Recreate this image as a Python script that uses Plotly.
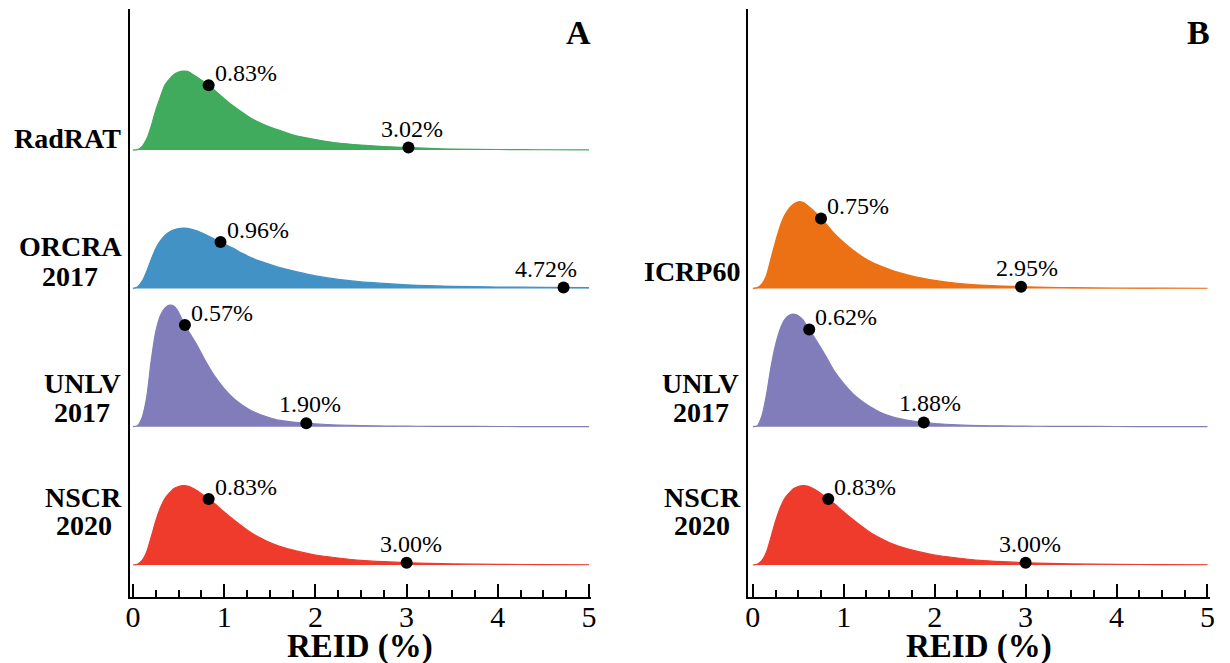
import numpy as np
import plotly.graph_objects as go

# Common REID grid (%) on which each density ridge is sampled
X_GRID = [0.0, 0.05, 0.1, 0.15, 0.2, 0.25, 0.3, 0.35, 0.4, 0.45, 0.5, 0.55, 0.6,
          0.7, 0.8, 0.9, 1.0, 1.1, 1.2, 1.3, 1.4, 1.5, 1.6, 1.8, 2.0, 2.25, 2.5,
          2.75, 3.0, 3.25, 3.5, 4.0, 4.5, 5.0]

# Relative density heights of each model's REID distribution
RADRAT = [0, 0.5, 3.5, 11, 24, 40, 53, 65, 71, 75.5, 78, 79, 78.8,
          73, 67, 59.5, 51.5, 44, 37.5, 31.5, 27, 23, 20, 14, 10.5, 7, 5,
          3.5, 2.6, 1.7, 1.1, 0.6, 0.35, 0.2]
ORCRA = [0, 1.5, 7, 17, 29, 40, 47.5, 53, 56.5, 58.5, 59.8, 60.3, 60,
         57.5, 53.5, 49, 44.5, 40, 35, 30.5, 27, 24, 21, 16.5, 12.5, 9, 6.5,
         5, 3.6, 2.8, 2.1, 1.4, 1.0, 0.7]
UNLV_A = [0, 1, 9, 29, 66, 95, 111, 118.5, 121.5, 120.5, 114.5, 105, 97,
          82, 65, 50, 38, 28.5, 21.5, 16, 12, 9, 6.5, 4.2, 2.8, 1.7, 1.1,
          0.7, 0.5, 0.4, 0.3, 0.2, 0.15, 0.1]
NSCR = [0, 0.8, 4.5, 13, 28, 44, 57, 66.5, 72, 76.5, 78.5, 79.3, 79,
        74.5, 68, 61, 53, 45.5, 38.5, 32, 27, 22.5, 19, 13.8, 10, 7, 4.6,
        3.3, 2.3, 1.6, 1.1, 0.6, 0.4, 0.25]
ICRP60 = [0, 0.8, 4.5, 13, 30, 47, 62, 73, 80, 84.5, 86.6, 86, 83,
          75, 65, 54.5, 46, 38.5, 32, 26.5, 22.5, 19, 16, 11.3, 8, 5, 3.4,
          2.3, 1.6, 1.1, 0.75, 0.4, 0.25, 0.15]
UNLV_B = [0, 1, 11, 32, 60, 82, 97.5, 107, 111.5, 112.7, 111, 107, 100,
          86, 71, 55, 43, 33, 25.5, 19.5, 14.5, 11, 8.3, 5, 3.2, 1.8, 1.1,
          0.75, 0.5, 0.4, 0.3, 0.2, 0.15, 0.1]

# Mean and 95th-percentile REID (%) for each ridge
MEANS_A = [0.83, 0.96, 0.57, 0.83]
P95_A = [3.02, 4.72, 1.90, 3.00]
MEANS_B = [0.75, 0.62, 0.83]
P95_B = [2.95, 1.88, 3.00]

LABELS_A = [["RadRAT"], ["ORCRA", "2017"], ["UNLV", "2017"], ["NSCR", "2020"]]
LABELS_B = [["ICRP60"], ["UNLV", "2017"], ["NSCR", "2020"]]
X_TICKS = [0, 1, 2, 3, 4, 5]

FONT = "Liberation Serif"
GREEN, BLUE, PURPLE, RED, ORANGE = "#41ab5d", "#4292c6", "#807dba", "#ef3b2c", "#ec7014"
STEP = 138.3  # vertical spacing between ridge baselines (density units)
LABEL_SIZE = 28

# advance widths (em) of the bold serif glyphs used in the ridge names
BOLD_EM = {"O": .778, "R": .722, "C": .722, "A": .722, "U": .722, "N": .722,
           "L": .667, "V": .722, "S": .556, "I": .389, "P": .611, "T": .667,
           "a": .5, "d": .556}


def text_width(s):
    return sum(BOLD_EM.get(ch, 0.5) for ch in s) * LABEL_SIZE


W, H = 1230, 663
fig = go.Figure()

# per-ridge label line offsets (px above the ridge baseline)
panels = [
    dict(xa="x", ya="y", dens=[RADRAT, ORCRA, UNLV_A, NSCR], rows=[3, 2, 1, 0],
         colors=[GREEN, BLUE, PURPLE, RED], means=MEANS_A, p95=P95_A,
         labels=LABELS_A, lab_dy=[[12], [42, 12], [43, 14], [68, 40]],
         p95_dx=[4, -18, 4, 4]),
    dict(xa="x2", ya="y2", dens=[ICRP60, UNLV_B, NSCR], rows=[2, 1, 0],
         colors=[ORANGE, PURPLE, RED], means=MEANS_B, p95=P95_B,
         labels=LABELS_B, lab_dy=[[17], [43, 14], [68, 40]], p95_dx=[6, 6, 4]),
]

annotations = []
for p in panels:
    for dens, row, col, m, q, lab, dys, qdx in zip(p["dens"], p["rows"], p["colors"],
                                                   p["means"], p["p95"], p["labels"],
                                                   p["lab_dy"], p["p95_dx"]):
        base = row * STEP
        fig.add_trace(go.Scatter(x=X_GRID, y=[base] * len(X_GRID), mode="lines",
                                 line=dict(width=0, color=col), hoverinfo="skip",
                                 showlegend=False, xaxis=p["xa"], yaxis=p["ya"]))
        fig.add_trace(go.Scatter(x=X_GRID, y=[base + d for d in dens], mode="lines",
                                 fill="tonexty", fillcolor=col,
                                 line=dict(width=1.2, color=col, shape="spline", smoothing=0.6),
                                 showlegend=False, xaxis=p["xa"], yaxis=p["ya"]))
        pts = [m, q]
        ys = [base + float(np.interp(v, X_GRID, dens)) for v in pts]
        fig.add_trace(go.Scatter(x=pts, y=ys, mode="markers",
                                 marker=dict(color="black", size=12),
                                 showlegend=False, xaxis=p["xa"], yaxis=p["ya"]))
        annotations.append(dict(x=m, y=ys[0], xref=p["xa"], yref=p["ya"],
                                text=f"{m:.2f}%", showarrow=False, xanchor="left",
                                yanchor="middle", xshift=4, yshift=12,
                                font=dict(family=FONT, size=24, color="black")))
        annotations.append(dict(x=q, y=ys[1], xref=p["xa"], yref=p["ya"],
                                text=f"{q:.2f}%", showarrow=False, xanchor="center",
                                yanchor="middle", xshift=qdx, yshift=19,
                                font=dict(family=FONT, size=24, color="black")))
        # name block: right-aligned against the axis, lines centred on each other
        centre = -8 - max(text_width(s) for s in lab) / 2
        for line, dy in zip(lab, dys):
            annotations.append(dict(x=0, y=base, xref=f"{p['xa']} domain", yref=p["ya"],
                                    text=f"<b>{line}</b>", showarrow=False,
                                    xanchor="center", yanchor="middle",
                                    xshift=centre, yshift=dy,
                                    font=dict(family=FONT, size=LABEL_SIZE, color="black")))

for xa, letter in [("x", "A"), ("x2", "B")]:
    annotations.append(dict(x=1, y=1, xref=f"{xa} domain", yref="paper",
                            text=f"<b>{letter}</b>", showarrow=False, xanchor="right",
                            yanchor="middle", xshift=2, yshift=-32,
                            font=dict(family=FONT, size=34, color="black")))
    annotations.append(dict(x=0.5, y=0, xref=f"{xa} domain", yref="paper",
                            text="<b>REID (%)</b>", showarrow=False, xanchor="center",
                            yanchor="middle", yshift=17,
                            font=dict(family=FONT, size=33, color="black")))

y_dom = [66 / H, 1 - 9 / H]
x_common = dict(showline=True, linecolor="black", linewidth=2, mirror=False,
                ticks="inside", ticklen=13, tickwidth=2, tickcolor="black",
                tickvals=X_TICKS, ticktext=[str(t) for t in X_TICKS],
                minor=dict(ticks="inside", ticklen=7, tickwidth=1.5, dtick=0.25,
                           tickcolor="black"),
                showgrid=False, zeroline=False, ticklabelstandoff=-8,
                tickfont=dict(family=FONT, size=30, color="black"))
y_common = dict(showline=True, linecolor="black", linewidth=2, ticks="",
                showticklabels=False, showgrid=False, zeroline=False,
                range=[-32, 556], domain=y_dom)

fig.update_layout(
    width=W, height=H,
    margin=dict(l=0, r=0, t=0, b=0),
    paper_bgcolor="white", plot_bgcolor="white",
    xaxis=dict(x_common, domain=[126.7 / W, 591.7 / W], range=[-0.036, 5.02], anchor="y"),
    yaxis=dict(y_common, anchor="x"),
    xaxis2=dict(x_common, domain=[750.5 / W, 1215.7 / W], range=[-0.049, 5.026], anchor="y2"),
    yaxis2=dict(y_common, anchor="x2"),
    annotations=annotations,
    showlegend=False,
)

fig.write_html("out.html")
